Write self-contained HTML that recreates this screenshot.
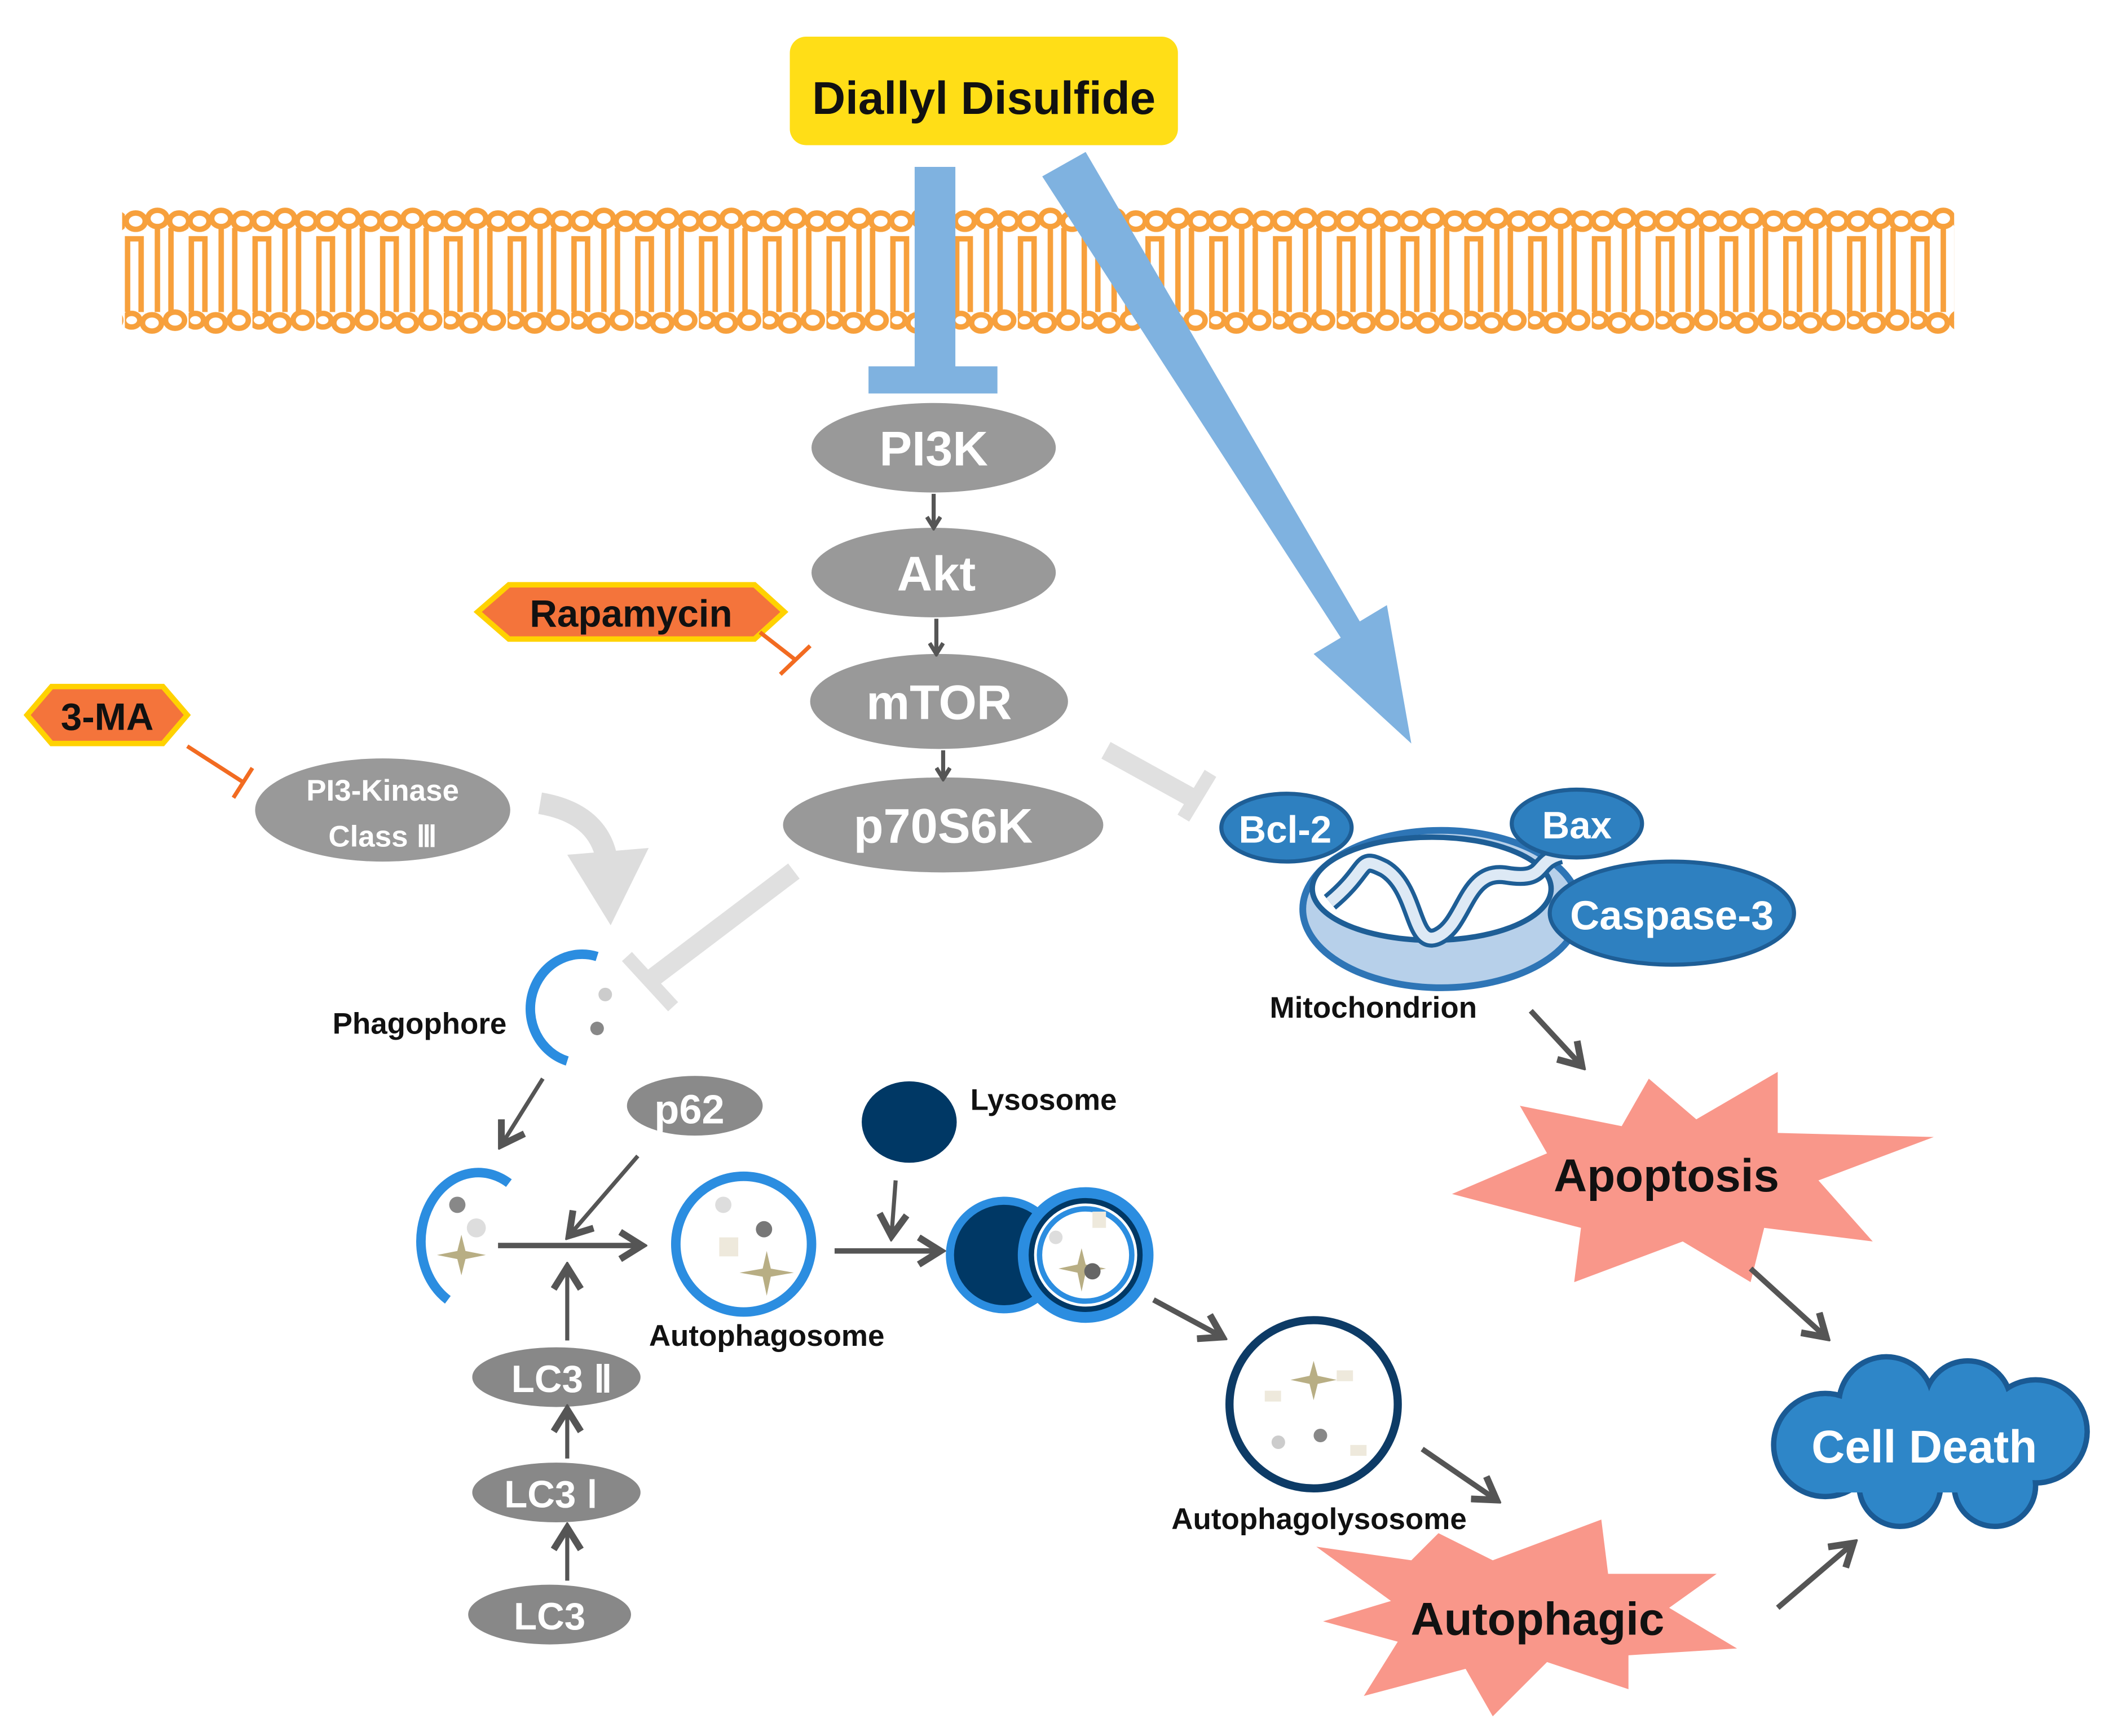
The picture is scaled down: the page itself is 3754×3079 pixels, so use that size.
<!DOCTYPE html>
<html><head><meta charset="utf-8"><style>
html,body{margin:0;padding:0;background:#fff}
svg{display:block}
text{font-family:"Liberation Sans",sans-serif;font-weight:bold}
</style></head><body>
<svg width="3754" height="3079" viewBox="0 0 1560 1279.5" preserveAspectRatio="none" xmlns="http://www.w3.org/2000/svg">
<defs>
<pattern id="mem" patternUnits="userSpaceOnUse" x="92" y="150" width="47" height="100">
<g fill="#fff" stroke="#F7A03C" stroke-width="4">
<ellipse cx="8" cy="13" rx="7" ry="6"/><ellipse cx="24" cy="11" rx="7" ry="6"/><ellipse cx="40" cy="13" rx="7" ry="6"/>
<path d="M2,80 V26 H12 V80" fill="none"/>
<line x1="24" y1="18" x2="24" y2="80"/><line x1="34" y1="18" x2="34" y2="80"/>
<ellipse cx="5" cy="86" rx="6" ry="5"/><ellipse cx="20" cy="88" rx="7" ry="6"/><ellipse cx="37" cy="86" rx="7" ry="6"/>
</g>
</pattern>
<marker id="ar" markerWidth="12" markerHeight="12" refX="9" refY="6" orient="auto" markerUnits="userSpaceOnUse">
<path d="M2,1 L10,6 L2,11" fill="none" stroke="#555" stroke-width="3"/>
</marker>
<marker id="arb" markerWidth="24" markerHeight="24" refX="19" refY="12" orient="auto" markerUnits="userSpaceOnUse">
<path d="M4,2 L20,12 L4,22" fill="none" stroke="#555" stroke-width="5"/>
</marker>
</defs>

<rect x="90" y="150" width="1350" height="100" fill="url(#mem)"/>

<rect x="582" y="27" width="286" height="80" rx="12" fill="#FFDE17"/>
<text x="725" y="84" font-size="34" text-anchor="middle" fill="#111">Diallyl Disulfide</text>

<rect x="674" y="123" width="30" height="150" fill="#7FB2E0"/>
<rect x="640" y="270" width="95" height="20" fill="#7FB2E0"/>
<polygon points="768,130 800,112 1002,458 1022,446 1040,548 968,482 988,470" fill="#7FB2E0"/>

<g fill="#999">
<ellipse cx="688" cy="330" rx="90" ry="33"/>
<ellipse cx="688" cy="422" rx="90" ry="33"/>
<ellipse cx="692" cy="517" rx="95" ry="35"/>
<ellipse cx="695" cy="608" rx="118" ry="35"/>
<ellipse cx="282" cy="597" rx="94" ry="38"/>
<ellipse cx="512" cy="815" rx="50" ry="22" fill="#8a8a8a"/>
<ellipse cx="410" cy="1015" rx="62" ry="22" fill="#888"/>
<ellipse cx="410" cy="1100" rx="62" ry="22" fill="#888"/>
<ellipse cx="405" cy="1190" rx="60" ry="22" fill="#888"/>
</g>
<g fill="#fff" text-anchor="middle">
<text x="688" y="343" font-size="36">PI3K</text>
<text x="690" y="435" font-size="36">Akt</text>
<text x="692" y="530" font-size="36">mTOR</text>
<text x="695" y="621" font-size="36">p70S6K</text>
<text x="282" y="590" font-size="22">PI3-Kinase</text>
<text x="282" y="624" font-size="22">Class Ⅲ</text>
<text x="508" y="828" font-size="30">p62</text>
<text x="414" y="1026" font-size="28">LC3 Ⅱ</text>
<text x="406" y="1111" font-size="28">LC3 Ⅰ</text>
<text x="405" y="1201" font-size="28">LC3</text>
</g>
<g stroke="#555" stroke-width="3" marker-end="url(#ar)">
<line x1="688" y1="364" x2="688" y2="388"/>
<line x1="690" y1="456" x2="690" y2="481"/>
<line x1="695" y1="553" x2="695" y2="573"/>
</g>

<polygon points="352,451 375,431 556,431 578,451 556,471 375,471" fill="#F4743B" stroke="#FFD200" stroke-width="4"/>
<text x="465" y="462" font-size="28" text-anchor="middle" fill="#111">Rapamycin</text>
<line x1="560" y1="466" x2="587" y2="487" stroke="#F26B21" stroke-width="3"/>
<line x1="575" y1="497" x2="597" y2="476" stroke="#F26B21" stroke-width="3"/>
<polygon points="20,527 38,506 120,506 138,527 120,548 38,548" fill="#F4743B" stroke="#FFD200" stroke-width="4"/>
<text x="79" y="538" font-size="28" text-anchor="middle" fill="#111">3-MA</text>
<line x1="138" y1="550" x2="180" y2="577" stroke="#F26B21" stroke-width="3"/>
<line x1="172" y1="588" x2="186" y2="566" stroke="#F26B21" stroke-width="3"/>

<path d="M398,592 Q445,600 448,640" fill="none" stroke="#ddd" stroke-width="16"/>
<polygon points="418,630 478,625 450,682" fill="#ddd"/>
<line x1="585" y1="642" x2="478" y2="723" stroke="#e0e0e0" stroke-width="14"/>
<line x1="462" y1="705" x2="496" y2="742" stroke="#e0e0e0" stroke-width="10"/>
<line x1="815" y1="553" x2="882" y2="590" stroke="#e0e0e0" stroke-width="14"/>
<line x1="872" y1="603" x2="892" y2="570" stroke="#e0e0e0" stroke-width="10"/>

<path d="M440,705 A38,40 0 0 0 418,782" fill="none" stroke="#2B8DE0" stroke-width="7"/>
<circle cx="446" cy="733" r="5" fill="#ccc"/><circle cx="440" cy="758" r="5" fill="#888"/>
<text x="245" y="762" font-size="22" fill="#111">Phagophore</text>

<ellipse cx="1062" cy="670" rx="102" ry="58" fill="#B7D0EA" stroke="#2E75B6" stroke-width="5"/>
<ellipse cx="1055" cy="655" rx="88" ry="38" fill="#fff" stroke="#1E5E96" stroke-width="4"/>
<path d="M980,665 C1010,640 1000,630 1020,640 C1045,655 1040,700 1060,690 C1080,680 1080,640 1110,645 C1140,650 1130,635 1150,630" fill="none" stroke="#1E5E96" stroke-width="14"/>
<path d="M980,665 C1010,640 1000,630 1020,640 C1045,655 1040,700 1060,690 C1080,680 1080,640 1110,645 C1140,650 1130,635 1150,630" fill="none" stroke="#DDE9F5" stroke-width="8"/>
<g fill="#2E80C0" stroke="#1E5E96" stroke-width="3">
<ellipse cx="948" cy="610" rx="48" ry="25"/>
<ellipse cx="1162" cy="607" rx="48" ry="25"/>
<ellipse cx="1232" cy="673" rx="90" ry="38"/>
</g>
<g fill="#fff" text-anchor="middle">
<text x="947" y="621" font-size="28">Bcl-2</text>
<text x="1162" y="618" font-size="28">Bax</text>
<text x="1232" y="685" font-size="30">Caspase-3</text>
</g>
<text x="1012" y="750" font-size="22" fill="#111" text-anchor="middle">Mitochondrion</text>

<polygon points="1070,880 1140,850 1120,815 1195,830 1215,795 1250,825 1310,790 1310,835 1425,838 1340,870 1380,915 1300,905 1290,945 1240,915 1160,945 1165,905" fill="#F9978A"/>
<text x="1228" y="878" font-size="34" text-anchor="middle" fill="#111">Apoptosis</text>
<polygon points="970,1140 1040,1150 1060,1130 1100,1150 1180,1120 1185,1160 1265,1160 1230,1185 1280,1215 1200,1220 1200,1245 1140,1225 1100,1265 1080,1230 1005,1250 1030,1210 975,1195 1025,1180" fill="#F9978A"/>
<text x="1133" y="1205" font-size="34" text-anchor="middle" fill="#111">Autophagic</text>

<g fill="#2E86C8" stroke="#1A5A94" stroke-width="4">
<circle cx="1345" cy="1065" r="38"/><circle cx="1390" cy="1035" r="35"/><circle cx="1450" cy="1035" r="32"/><circle cx="1500" cy="1055" r="38"/><circle cx="1470" cy="1095" r="30"/><circle cx="1400" cy="1095" r="30"/>
</g>
<g fill="#2E86C8">
<circle cx="1345" cy="1065" r="36"/><circle cx="1390" cy="1035" r="33"/><circle cx="1450" cy="1035" r="30"/><circle cx="1500" cy="1055" r="36"/><circle cx="1470" cy="1095" r="28"/><circle cx="1400" cy="1095" r="28"/><rect x="1350" y="1040" width="140" height="60"/>
</g>
<text x="1418" y="1078" font-size="34" fill="#fff" text-anchor="middle">Cell Death</text>

<g stroke="#555" stroke-width="4" marker-end="url(#arb)">
<line x1="1128" y1="745" x2="1165" y2="785"/>
<line x1="1290" y1="935" x2="1345" y2="985"/>
<line x1="1310" y1="1185" x2="1365" y2="1138"/>
<line x1="1048" y1="1068" x2="1102" y2="1105"/>
<line x1="850" y1="958" x2="900" y2="985"/>
<line x1="367" y1="918" x2="472" y2="918"/>
<line x1="615" y1="922" x2="692" y2="922"/>
</g>
<g stroke="#555" stroke-width="3" marker-end="url(#arb)">
<line x1="400" y1="795" x2="370" y2="843"/>
<line x1="470" y1="852" x2="420" y2="910"/>
<line x1="660" y1="870" x2="657" y2="910"/>
<line x1="418" y1="988" x2="418" y2="935"/>
<line x1="418" y1="1075" x2="418" y2="1040"/>
<line x1="418" y1="1165" x2="418" y2="1127"/>
</g>

<path d="M375,872 A40,48 0 1 0 330,958" fill="none" stroke="#2B8DE0" stroke-width="7"/>
<circle cx="337" cy="888" r="6" fill="#888"/><circle cx="351" cy="905" r="7" fill="#ddd"/>
<path d="M340,910 L343,922 L358,925 L343,928 L340,940 L337,928 L322,925 L337,922Z" fill="#B8AE84"/>

<circle cx="548" cy="917" r="50" fill="#fff" stroke="#2B8DE0" stroke-width="7"/>
<circle cx="563" cy="906" r="6" fill="#777"/><circle cx="533" cy="888" r="6" fill="#ddd"/><rect x="530" y="912" width="14" height="14" fill="#eee9dc"/>
<path d="M565,922 L568,935 L585,938 L568,941 L565,955 L562,941 L545,938 L562,935Z" fill="#B8AE84"/>
<text x="565" y="992" font-size="22" fill="#111" text-anchor="middle">Autophagosome</text>

<ellipse cx="670" cy="827" rx="35" ry="30" fill="#003865"/>
<text x="715" y="818" font-size="22" fill="#111">Lysosome</text>

<circle cx="740" cy="925" r="40" fill="#003865" stroke="#2B8DE0" stroke-width="6"/>
<circle cx="800" cy="925" r="50" fill="#2B8DE0"/>
<circle cx="800" cy="925" r="40" fill="#fff" stroke="#003865" stroke-width="4"/>
<circle cx="800" cy="925" r="34" fill="#fff" stroke="#2B8DE0" stroke-width="4"/>
<circle cx="778" cy="912" r="5" fill="#ddd"/><rect x="805" y="893" width="10" height="12" fill="#eee9dc"/>
<path d="M797,920 L800,932 L815,935 L800,938 L797,952 L794,938 L780,935 L794,932Z" fill="#B8AE84"/>
<circle cx="805" cy="937" r="6" fill="#666"/>

<circle cx="968" cy="1035" r="62" fill="#fff" stroke="#0D3B66" stroke-width="6"/>
<path d="M968,1003 L971,1014 L985,1017 L971,1020 L968,1032 L965,1020 L951,1017 L965,1014Z" fill="#B8AE84"/>
<rect x="985" y="1010" width="12" height="8" fill="#eee9dc"/><rect x="932" y="1025" width="12" height="8" fill="#eee9dc"/><rect x="995" y="1065" width="12" height="8" fill="#eee9dc"/>
<circle cx="942" cy="1063" r="5" fill="#ccc"/><circle cx="973" cy="1058" r="5" fill="#888"/>
<text x="972" y="1127" font-size="22" fill="#111" text-anchor="middle">Autophagolysosome</text>
</svg>
</body></html>
